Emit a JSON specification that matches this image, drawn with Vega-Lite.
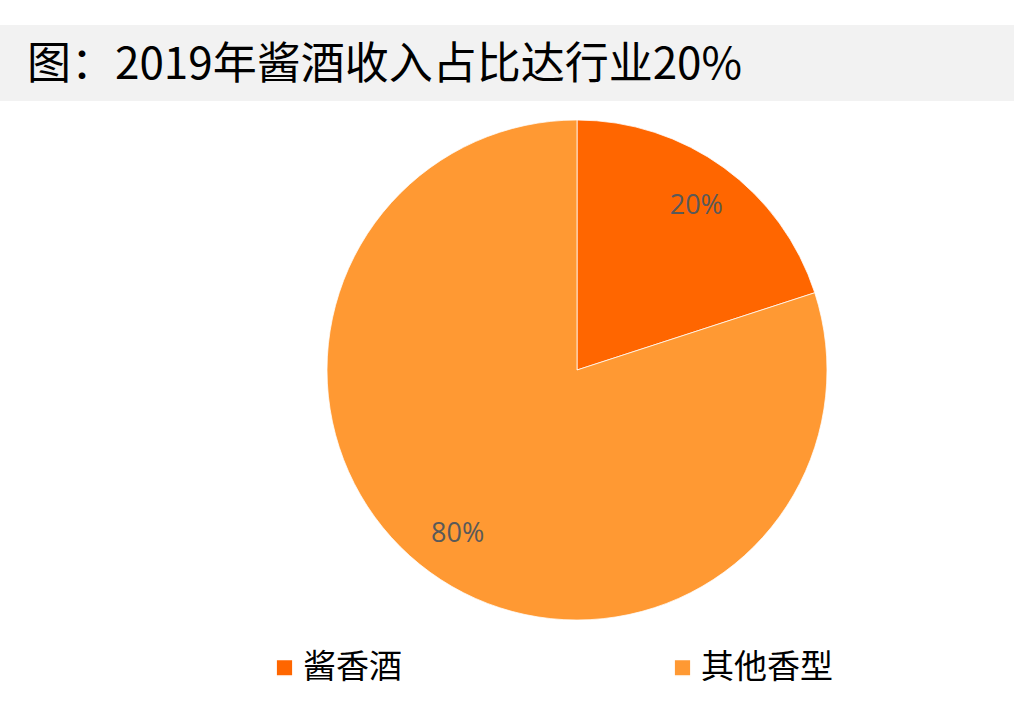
{
  "$schema": "https://vega.github.io/schema/vega-lite/v6.json",
  "description": "2019年酱酒收入占比 pie",
  "padding": {"left": 0, "top": 25, "right": 0, "bottom": 20},
  "background": "white",
  "spacing": 0,
  "config": {"view": {"stroke": null}, "font": "Noto Sans CJK SC"},
  "vconcat": [
    {
      "width": 1014,
      "height": 76,
      "data": {"values": [{"heading": "图：2019年酱酒收入占比达行业20%"}]},
      "layer": [
        {"mark": {"type": "rect", "color": "#f2f2f2"}, "encoding": {}},
        {
          "mark": {
            "type": "text",
            "align": "left",
            "baseline": "middle",
            "dx": 27,
            "dy": 3,
            "fontSize": 44,
            "font": "Liberation Sans Narrow, Noto Sans CJK SC",
            "color": "#000000"
          },
          "encoding": {
            "x": {"datum": 0, "type": "quantitative", "scale": {"domain": [0, 1]}, "axis": null},
            "text": {"field": "heading", "type": "nominal"}
          }
        }
      ]
    },
    {
      "spacing": 0,
      "hconcat": [
        {
          "width": 140,
          "height": 538,
          "data": {"values": []},
          "mark": "point",
          "encoding": {}
        },
        {
          "width": 874,
          "height": 538,
          "data": {
            "values": [
              {"category": "酱香酒", "share": 0.2, "rank": 1},
              {"category": "其他香型", "share": 0.8, "rank": 2}
            ]
          },
          "encoding": {
            "theta": {"field": "share", "type": "quantitative", "stack": true},
            "order": {"field": "rank", "type": "quantitative"}
          },
          "layer": [
            {
              "mark": {"type": "arc", "outerRadius": 250, "stroke": "#ffffff", "strokeWidth": 0.75},
              "encoding": {
                "color": {
                  "field": "category",
                  "type": "nominal",
                  "scale": {"domain": ["酱香酒", "其他香型"], "range": ["#ff6600", "#ff9933"]},
                  "legend": {
                    "title": null,
                    "orient": "none",
                    "legendX": 268,
                    "legendY": 626,
                    "direction": "horizontal",
                    "symbolType": "square",
                    "symbolSize": 280,
                    "labelFontSize": 33,
                    "labelFont": "Noto Sans CJK SC",
                    "labelColor": "#000000",
                    "labelLimit": 300,
                    "columnPadding": 264,
                    "labelOffset": 2
                  }
                }
              }
            },
            {
              "mark": {"type": "text", "radius": 203, "fontSize": 27, "font": "Open Sans", "color": "#595959"},
              "encoding": {
                "detail": {"field": "category", "type": "nominal"},
                "text": {"field": "share", "type": "quantitative", "format": ".0%"}
              }
            }
          ]
        }
      ]
    }
  ]
}
